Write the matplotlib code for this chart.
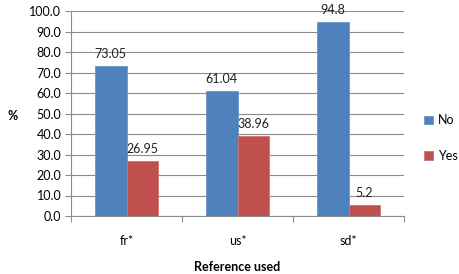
import numpy as np
import matplotlib
matplotlib.use("Agg")
import matplotlib.pyplot as plt

# --- data ---
categories = ["fr*", "us*", "sd*"]
no_vals = [73.05, 61.04, 94.8]
yes_vals = [26.95, 38.96, 5.2]
no_labels = ["73.05", "61.04", "94.8"]
yes_labels = ["26.95", "38.96", "5.2"]

plt.rcParams['font.family'] = ['Lato', 'DejaVu Sans']
plt.rcParams['font.size'] = 9

fig = plt.figure(figsize=(4.59, 2.74), dpi=100)
ax = fig.add_axes([71 / 459, 1 - 216 / 274, 333 / 459, 205 / 274])

x = np.arange(len(categories))
w = 1 / 3.5
b1 = ax.bar(x - w / 2, no_vals, w, color='#4F81BD', edgecolor='#6D95C8',
            linewidth=0.6, label='No', zorder=3)
b2 = ax.bar(x + w / 2, yes_vals, w, color='#C0504D', edgecolor='#D07370',
            linewidth=0.6, label='Yes', zorder=3)

for rect, lab in zip(b1, no_labels):
    ax.text(rect.get_x() + rect.get_width() / 2, rect.get_height() + 3, lab,
            ha='center', va='bottom', color='#222222', zorder=4)
for rect, lab in zip(b2, yes_labels):
    ax.text(rect.get_x() + rect.get_width() / 2, rect.get_height() + 3, lab,
            ha='center', va='bottom', color='#222222', zorder=4)

ax.set_xlim(-0.5, 2.5)
ax.set_ylim(0, 100)
ax.set_yticks(np.arange(0, 101, 10))
ax.set_yticklabels([f"{v:.1f}" for v in np.arange(0, 101, 10)])
ax.yaxis.grid(True, color='#8C8C8C', linewidth=0.8, zorder=0)

# category boundary ticks on x
ax.set_xticks([-0.5, 0.5, 1.5, 2.5])
ax.set_xticklabels([])
ax.set_xticks(x, minor=True)
ax.set_xticklabels(categories, minor=True)
ax.tick_params(axis='x', which='major', length=4, color='#8C8C8C', width=0.8)
ax.tick_params(axis='x', which='minor', length=0, pad=14)
ax.tick_params(axis='y', length=4, color='#8C8C8C', width=0.8, pad=3)

for s in ['top', 'right']:
    ax.spines[s].set_visible(False)
for s in ['left', 'bottom']:
    ax.spines[s].set_color('#8C8C8C')
    ax.spines[s].set_linewidth(0.8)

ax.set_xlabel('Reference used', fontweight='bold', labelpad=10)
ax.set_ylabel('%', fontweight='bold', rotation=0, va='center', ha='center')
ax.yaxis.set_label_coords(-0.175, 0.49)

ax.legend(loc='center left', bbox_to_anchor=(424 / 459, 1 - 138 / 274),
          bbox_transform=fig.transFigure, frameon=False,
          borderaxespad=0, borderpad=0,
          handlelength=0.7, handleheight=0.7, handletextpad=0.4,
          labelspacing=1.85)

fig.savefig('out.png', dpi=100)
